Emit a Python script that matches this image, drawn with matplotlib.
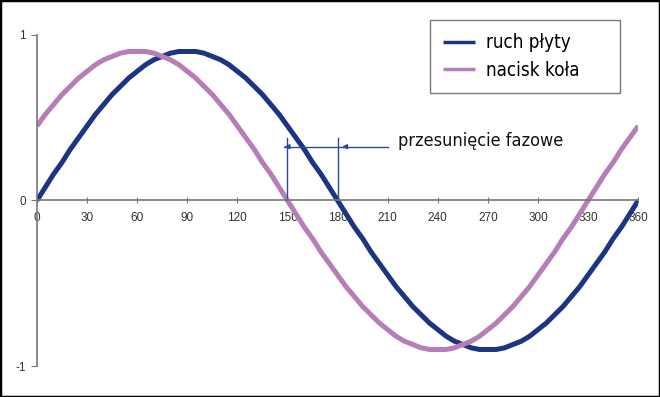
import matplotlib
matplotlib.use("Agg")
import matplotlib.pyplot as plt
from matplotlib.patches import Rectangle

# katy co 5 stopni
katy = list(range(0, 361, 5))
ruch_plyty = [0.00, 0.08, 0.16, 0.23, 0.31, 0.38, 0.45, 0.52, 0.58, 0.64, 0.69, 0.74, 0.78,
              0.82, 0.85, 0.87, 0.89, 0.90, 0.90,
              0.90, 0.89, 0.87, 0.85, 0.82, 0.78, 0.74, 0.69, 0.64, 0.58, 0.52, 0.45, 0.38,
              0.31, 0.23, 0.16, 0.08, 0.00,
              -0.08, -0.16, -0.23, -0.31, -0.38, -0.45, -0.52, -0.58, -0.64, -0.69, -0.74,
              -0.78, -0.82, -0.85, -0.87, -0.89, -0.90, -0.90,
              -0.90, -0.89, -0.87, -0.85, -0.82, -0.78, -0.74, -0.69, -0.64, -0.58, -0.52,
              -0.45, -0.38, -0.31, -0.23, -0.16, -0.08, 0.00]
nacisk_kola = [0.45, 0.52, 0.58, 0.64, 0.69, 0.74, 0.78, 0.82, 0.85, 0.87, 0.89, 0.90, 0.90,
               0.90, 0.89, 0.87, 0.85, 0.82, 0.78, 0.74, 0.69, 0.64, 0.58, 0.52, 0.45, 0.38,
               0.31, 0.23, 0.16, 0.08, 0.00,
               -0.08, -0.16, -0.23, -0.31, -0.38, -0.45, -0.52, -0.58, -0.64, -0.69, -0.74,
               -0.78, -0.82, -0.85, -0.87, -0.89, -0.90, -0.90,
               -0.90, -0.89, -0.87, -0.85, -0.82, -0.78, -0.74, -0.69, -0.64, -0.58, -0.52,
               -0.45, -0.38, -0.31, -0.23, -0.16, -0.08, 0.00,
               0.08, 0.16, 0.23, 0.31, 0.38, 0.45]
x_ticks = [0, 30, 60, 90, 120, 150, 180, 210, 240, 270, 300, 330, 360]
y_ticks = [-1, 0, 1]

plt.rcParams['font.family'] = ['Liberation Sans', 'DejaVu Sans']
plt.rcParams['axes.unicode_minus'] = False
narrow = dict(family='DejaVu Sans', stretch='condensed')

fig = plt.figure(figsize=(6.6, 3.97), dpi=100)
ax = fig.add_axes([0.056, 0.078, 0.911, 0.834])

ax.plot(katy, ruch_plyty, color='#1c3482', lw=3.6, label='ruch płyty', solid_capstyle='butt')
ax.plot(katy, nacisk_kola, color='#b67db9', lw=3.6, label='nacisk koła', solid_capstyle='butt')

ax.set_xlim(0, 360)
ax.set_ylim(-1, 1)
ax.spines['top'].set_visible(False)
ax.spines['right'].set_visible(False)
ax.spines['bottom'].set_position(('data', 0))
for s in ['left', 'bottom']:
    ax.spines[s].set_color('#777777')
    ax.spines[s].set_linewidth(1.2)
ax.set_xticks(x_ticks)
ax.set_yticks(y_ticks)
ax.tick_params(axis='x', direction='inout', length=5, colors='#777777', labelcolor='#333333',
               labelsize=8.5, pad=6)
ax.tick_params(axis='y', direction='out', length=4, colors='#777777', labelcolor='#333333',
               labelsize=8.5, pad=4)

# przesuniecie fazowe
ax.plot([150, 150], [0, 0.38], color='#2a4a9a', lw=1)
ax.plot([180, 180], [0, 0.38], color='#2a4a9a', lw=1)
ax.plot([148, 210], [0.325, 0.325], color='#2a4a9a', lw=1)
ax.annotate('', xy=(146.5, 0.325), xytext=(152, 0.325),
            arrowprops=dict(arrowstyle='-|>', color='#2a4a9a', lw=1, mutation_scale=7))
ax.annotate('', xy=(181, 0.325), xytext=(187, 0.325),
            arrowprops=dict(arrowstyle='-|>', color='#2a4a9a', lw=1, mutation_scale=7))
ax.text(216, 0.36, 'przesunięcie fazowe', fontsize=13, va='center', ha='left',
        color='#111111', **narrow)

leg = ax.legend(loc='upper left', bbox_to_anchor=(0.654, 0.828, 0.316, 0.217), mode='expand',
                frameon=True, fancybox=False, prop=dict(size=13.5, **narrow),
                handlelength=1.7, borderpad=0.7, labelspacing=0.45, handletextpad=0.6,
                borderaxespad=0)
leg.get_frame().set_edgecolor('#555555')
leg.get_frame().set_linewidth(1)
for ln in leg.get_lines():
    ln.set_linewidth(2.5)

fig.patches.append(Rectangle((0, 0), 1, 1, transform=fig.transFigure, fill=False,
                             edgecolor='black', lw=2.5))

fig.savefig('out.png', dpi=100)
